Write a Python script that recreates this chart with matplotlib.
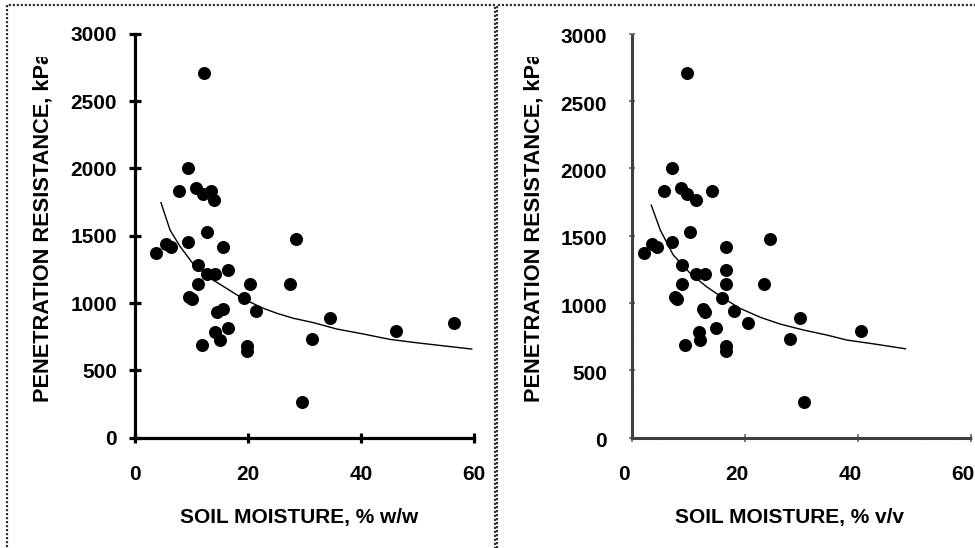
import matplotlib
matplotlib.use("Agg")
import matplotlib.pyplot as plt
import matplotlib.transforms as mtransforms
from matplotlib.patches import Rectangle

plt.rcParams['font.family'] = ['Liberation Sans', 'DejaVu Sans']
plt.rcParams['font.weight'] = 'bold'
plt.rcParams['font.size'] = 15

# ---- data ----
resistance = [1374, 1437, 1418, 1834, 2000, 1450, 1852, 1808, 1834, 1762,
              2712, 1525, 1286, 1216, 1216, 1418, 1242, 1140, 1047, 1029,
              933, 959, 782, 722, 813, 691, 1034, 1140, 943, 678,
              644, 1140, 1478, 886, 735, 262, 795, 855]
moisture_ww = [3.8, 5.4, 6.3, 7.7, 9.4, 9.4, 10.8, 12.1, 13.4, 14.0,
               12.2, 12.7, 11.2, 12.7, 14.2, 15.5, 16.5, 11.2, 9.6, 10.1,
               14.5, 15.5, 14.2, 15.0, 16.5, 11.9, 19.3, 20.4, 21.5, 19.9,
               19.9, 27.4, 28.5, 34.5, 31.3, 29.6, 46.2, 56.5]
moisture_vv = [2.1, 3.5, 4.4, 5.7, 7.1, 7.1, 8.6, 9.7, 14.2, 11.4,
               9.7, 10.3, 8.8, 11.4, 12.9, 16.7, 16.7, 8.8, 7.6, 8.0,
               12.9, 12.6, 11.8, 12.1, 14.9, 9.3, 16.0, 16.7, 18.1, 16.7,
               16.7, 23.4, 24.5, 29.8, 28.0, 30.4, 40.5, 20.5]

trend_ww_x = [4.6, 6.2, 8.0, 10.3, 13.3, 16.2, 19.2, 22.7, 25.1, 28.0, 31.6, 35.7, 40.4, 45.1, 50.0, 55.0, 59.6]
trend_ww_y = [1746, 1543, 1419, 1290, 1184, 1109, 1030, 961, 924, 887, 854, 807, 770, 730, 704, 680, 658]
trend_vv_x = [3.4, 5.0, 7.3, 10.3, 13.2, 16.2, 19.1, 22.7, 26.2, 30.3, 34.5, 38.0, 43.0, 48.4]
trend_vv_y = [1728, 1543, 1357, 1221, 1121, 1035, 961, 894, 844, 800, 762, 725, 695, 660]

xticks = [0, 20, 40, 60]
yticks = [0, 500, 1000, 1500, 2000, 2500, 3000]
xlabels = ['SOIL MOISTURE, % w/w', 'SOIL MOISTURE, % v/v']
ylabel = 'PENETRATION RESISTANCE, kPa'

W, H = 975, 548
fig = plt.figure(figsize=(W / 100, H / 100), dpi=100)


def fx(px):
    return px / W


def fy(py):
    return 1 - py / H


ax_bottom = fy(437.6)
ax_height = fy(33.9) - ax_bottom
ax1 = fig.add_axes([fx(135), ax_bottom, fx(339), ax_height])
ax2 = fig.add_axes([fx(632), ax_bottom, fx(339), ax_height])

for ax, xs, tx, ty in [(ax1, moisture_ww, trend_ww_x, trend_ww_y),
                       (ax2, moisture_vv, trend_vv_x, trend_vv_y)]:
    ax.scatter(xs, resistance, s=88, color='black', zorder=3, clip_on=False, linewidths=0)
    ax.plot(tx, ty, color='black', lw=1.0, zorder=2)
    ax.set_xlim(0, 60)
    ax.set_ylim(0, 3000)
    ax.set_xticks(xticks)
    ax.set_yticks(yticks)
    for s in ['top', 'right']:
        ax.spines[s].set_visible(False)

# left: solid thick axes
for s in ['left', 'bottom']:
    ax1.spines[s].set_linewidth(2.3)
ax1.tick_params(axis='y', direction='inout', length=8, width=2.3, pad=9, labelsize=15)
ax1.tick_params(axis='x', direction='inout', length=6.5, width=2.3, pad=16.5, labelsize=15)

# right: dotted axes
for s in ['left', 'bottom']:
    ax2.spines[s].set_linewidth(2.2)
    ax2.spines[s].set_linestyle((0, (0.45, 0.6)))
    ax2.spines[s].set_color('0.25')
ax2.tick_params(axis='y', direction='inout', length=5, width=1.3, color='0.45', pad=15.5, labelsize=15)
ax2.tick_params(axis='x', direction='inout', length=6, width=1.3, color='0.45', pad=17, labelsize=15)
shift = mtransforms.ScaledTranslation(-8 / 100, 0, fig.dpi_scale_trans)
for lab in ax2.get_xticklabels():
    lab.set_transform(lab.get_transform() + shift)
shift_y = mtransforms.ScaledTranslation(0, -2 / 100, fig.dpi_scale_trans)
for lab in ax2.get_yticklabels():
    lab.set_transform(lab.get_transform() + shift_y)

# x labels
ax1.text((299 - 135) / 339, (437.6 - 518) / 403.7, xlabels[0], transform=ax1.transAxes,
         ha='center', va='center', fontsize=15, fontweight='bold')
ax2.text((789.5 - 632) / 339, (437.6 - 518) / 403.7, xlabels[1], transform=ax2.transAxes,
         ha='center', va='center', fontsize=15, fontweight='bold')

# y labels (clipped at the top, as in the reference)
clip = Rectangle((0, 0), 1, fy(56.7), transform=fig.transFigure, facecolor='none', edgecolor='none')
for bx in [48, 539.5]:
    t = fig.text(fx(bx), fy(401.7), ylabel, rotation=90, rotation_mode='anchor',
                 ha='left', va='baseline', fontsize=15.7, fontweight='bold')
    t.set_clip_path(clip)

# panel borders (dashed)
border_style = dict(fill=False, edgecolor='0.2', linewidth=1.6, linestyle=(0, (1, 0.8)),
                    transform=fig.transFigure)
fig.patches.append(Rectangle((fx(6.5), fy(600)), fx(495 - 6.5), fy(5) - fy(600), **border_style))
fig.patches.append(Rectangle((fx(497.5), fy(600)), fx(1100 - 497.5), fy(5) - fy(600), **border_style))

fig.savefig('out.png', dpi=100)
